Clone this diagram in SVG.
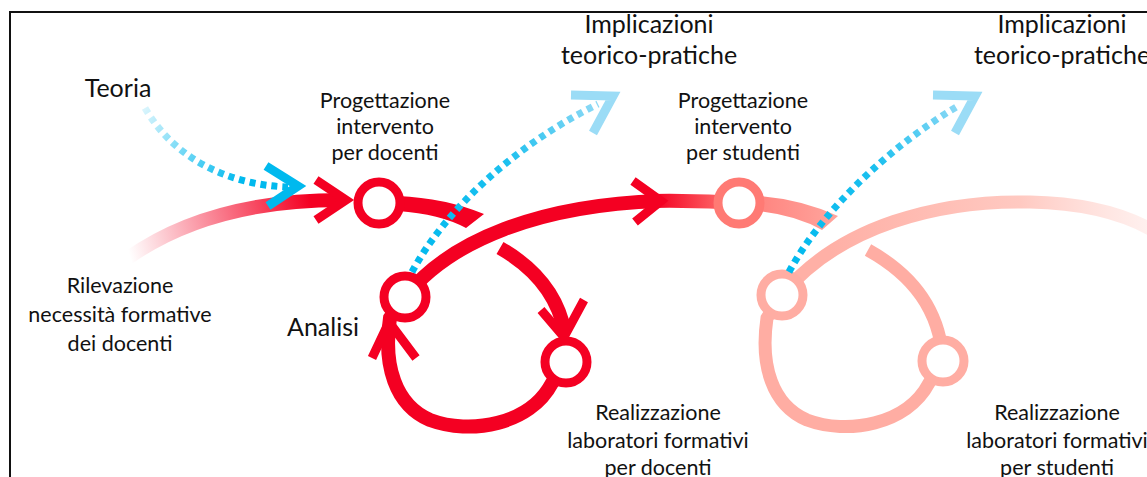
<svg xmlns="http://www.w3.org/2000/svg" width="1147" height="477" viewBox="0 0 1147 477">
<defs>
<linearGradient id="gIn" gradientUnits="userSpaceOnUse" x1="128" y1="250" x2="310" y2="200">
<stop offset="0" stop-color="#F40022" stop-opacity="0"/>
<stop offset="1" stop-color="#F40022" stop-opacity="1"/>
</linearGradient>
<linearGradient id="gTo4" gradientUnits="userSpaceOnUse" x1="655" y1="0" x2="735" y2="0">
<stop offset="0" stop-color="#F40022"/>
<stop offset="1" stop-color="#FF7A74"/>
</linearGradient>
<linearGradient id="gStem4" gradientUnits="userSpaceOnUse" x1="760" y1="0" x2="840" y2="0">
<stop offset="0" stop-color="#FF8580"/>
<stop offset="1" stop-color="#FFA69E"/>
</linearGradient>
<linearGradient id="gOut" gradientUnits="userSpaceOnUse" x1="830" y1="0" x2="1147" y2="0">
<stop offset="0" stop-color="#FFB0A6"/>
<stop offset="0.6" stop-color="#FFC9C1"/>
<stop offset="1" stop-color="#FFD9D4" stop-opacity="0.4"/>
</linearGradient>
<linearGradient id="gB1" gradientUnits="userSpaceOnUse" x1="145" y1="108" x2="240" y2="182">
<stop offset="0" stop-color="#00B9EE" stop-opacity="0.15"/>
<stop offset="1" stop-color="#00B9EE" stop-opacity="1"/>
</linearGradient>
<linearGradient id="gB2" gradientUnits="userSpaceOnUse" x1="410" y1="272" x2="610" y2="100">
<stop offset="0" stop-color="#00B9EE"/>
<stop offset="0.55" stop-color="#1CC0EF"/>
<stop offset="1" stop-color="#9BDCF6"/>
</linearGradient>
<linearGradient id="gB3" gradientUnits="userSpaceOnUse" x1="787" y1="272" x2="972" y2="100">
<stop offset="0" stop-color="#00B9EE"/>
<stop offset="0.55" stop-color="#1CC0EF"/>
<stop offset="1" stop-color="#9BDCF6"/>
</linearGradient>
</defs>
<style>
text{font-family:Lato,"Open Sans","Liberation Sans",sans-serif;fill:#111;text-anchor:middle}
.t22{font-size:21.5px}
.t25{font-size:25px}
.red{fill:none;stroke:#F40022;stroke-width:14}
.pink{fill:none;stroke:#FFADA3;stroke-width:13}
.chev{fill:none;stroke-width:9;stroke-linejoin:miter;stroke-linecap:butt}
.dash{fill:none;stroke-width:7;stroke-dasharray:6 5}
.ring{fill:#fff;stroke-width:9}
</style>
<g id="frame" stroke="#111" stroke-width="2" fill="none">
<path d="M10,477 L10,12 L1147,12"/>
</g>
<g id="connectors">
<path d="M128,258 Q210,200 342,200" fill="none" stroke="url(#gIn)" stroke-width="14"/>
<path class="chev" stroke="#F40022" d="M316,180 L346,200 L316,220"/>
<path d="M398,196 Q445,198 484,214 L466,228 Q440,214 398,211 Z" fill="#F40022"/>
<path class="red" d="M500,248 C535,268 558,295 565,333"/>
<path class="chev" stroke="#F40022" d="M541,310 L564,337 L584,300"/>
<path class="red" d="M566,362 L552,383 C530,425 470,435 430,420 C395,405 383,365 390,318 L405,297"/>
<path class="chev" stroke="#F40022" d="M372,358 L389,322 L416,358"/>
<path class="red" d="M405,297 C450,240 540,205 660,201"/>
<path d="M652,201 C690,200 715,202 739,203" fill="none" stroke="url(#gTo4)" stroke-width="14"/>
<path class="chev" stroke="#F40022" d="M633,181 L661,201 L635,222"/>
<path d="M758,196 Q800,199 838,216 L822,230 Q796,215 758,211 Z" fill="url(#gStem4)"/>
<path class="pink" d="M868,250 C913,275 940,310 943,361"/>
<path class="pink" d="M943,361 L929,383 C907,425 847,435 807,420 C772,405 760,365 767,318 L782,295"/>
<path d="M782,295 C840,225 940,200 1030,202 C1080,203 1120,212 1152,230" fill="none" stroke="url(#gOut)" stroke-width="13"/>
</g>
<g id="node-progettazione-docenti">
<circle class="ring" cx="379" cy="203" r="21" stroke="#F40022"/>
<text class="t22" x="385" y="108">Progettazione</text>
<text class="t22" x="385" y="134">intervento</text>
<text class="t22" x="385" y="160">per docenti</text>
</g>
<g id="node-analisi">
<circle class="ring" cx="405" cy="297" r="21" stroke="#F40022"/>
<text class="t25" x="323" y="336">Analisi</text>
</g>
<g id="node-realizzazione-docenti">
<circle class="ring" cx="566" cy="362" r="21" stroke="#F40022"/>
<text class="t22" x="658" y="420">Realizzazione</text>
<text class="t22" x="658" y="448">laboratori formativi</text>
<text class="t22" x="658" y="475">per docenti</text>
</g>
<g id="node-progettazione-studenti">
<circle class="ring" cx="739" cy="203" r="21" stroke="#FF7A74"/>
<text class="t22" x="743" y="108">Progettazione</text>
<text class="t22" x="743" y="134">intervento</text>
<text class="t22" x="743" y="160">per studenti</text>
</g>
<g id="node-analisi-studenti">
<circle class="ring" cx="782" cy="295" r="21" stroke="#FFADA3"/>
</g>
<g id="node-realizzazione-studenti">
<circle class="ring" cx="943" cy="361" r="21" stroke="#FFADA3"/>
<text class="t22" x="1057" y="420">Realizzazione</text>
<text class="t22" x="1057" y="448">laboratori formativi</text>
<text class="t22" x="1057" y="475">per studenti</text>
</g>
<g id="node-teoria">
<text class="t25" x="118" y="97">Teoria</text>
</g>
<g id="node-rilevazione">
<text class="t22" x="120" y="293">Rilevazione</text>
<text class="t22" x="120" y="322">necessità formative</text>
<text class="t22" x="120" y="351">dei docenti</text>
</g>
<g id="node-implicazioni-1">
<text class="t25" x="649" y="33">Implicazioni</text>
<text class="t25" x="649" y="64">teorico-pratiche</text>
</g>
<g id="node-implicazioni-2">
<text class="t25" x="1062" y="33">Implicazioni</text>
<text class="t25" x="1062" y="64">teorico-pratiche</text>
</g>
<g id="blue-connectors">
<path class="dash" stroke="url(#gB1)" d="M145,108 C175,160 230,185 288,187"/>
<path class="chev" stroke="#00B9EE" stroke-width="6" d="M266,166 L298,186 L268,206"/>
<path class="dash" stroke="url(#gB2)" d="M412,272 C445,210 515,145 598,104"/>
<path class="chev" stroke="#9BDCF6" stroke-width="7" d="M571,95 L613,96 L593,133"/>
<path class="dash" stroke="url(#gB3)" d="M789,272 C822,210 892,145 958,106"/>
<path class="chev" stroke="#9BDCF6" stroke-width="7" d="M933,95 L975,96 L955,133"/>
</g>
</svg>
